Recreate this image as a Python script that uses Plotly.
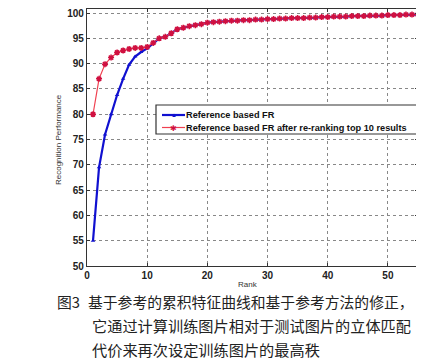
import plotly.graph_objects as go

rank = list(range(1, 56))
blue_vals = [55, 69.5, 76, 80, 83.8, 87, 89.8, 91.4, 92.3, 93.0, 94.1,
             95.0, 95.3, 96.0, 96.8, 97.1, 97.4, 97.6, 97.8, 98.1,
             98.2, 98.3, 98.4, 98.5, 98.5, 98.6, 98.6, 98.7, 98.7, 98.8,
             98.8, 98.9, 98.9, 99.0, 99.0, 99.0, 99.1, 99.1, 99.2, 99.2,
             99.3, 99.3, 99.3, 99.4, 99.4, 99.4, 99.5, 99.5, 99.5, 99.6,
             99.6, 99.6, 99.7, 99.7, 99.7]
red_vals = [80, 87, 89.9, 91.2, 92.2, 92.6, 92.9, 93.1, 93.1, 93.3, 94.1,
            95.0, 95.3, 96.0, 96.8, 97.1, 97.4, 97.6, 97.8, 98.1,
            98.2, 98.3, 98.4, 98.5, 98.5, 98.6, 98.6, 98.7, 98.7, 98.8,
            98.8, 98.9, 98.9, 99.0, 99.0, 99.0, 99.1, 99.1, 99.2, 99.2,
            99.3, 99.3, 99.3, 99.4, 99.4, 99.4, 99.5, 99.5, 99.5, 99.6,
            99.6, 99.6, 99.7, 99.7, 99.7]
series_names = ["Reference based FR",
                "Reference based FR after re-ranking top 10 results"]
x_ticks = [0, 10, 20, 30, 40, 50]
y_ticks = [50, 55, 60, 65, 70, 75, 80, 85, 90, 95, 100]
caption_label = "图3"
caption_lines = ["基于参考的累积特征曲线和基于参考方法的修正，",
                 "它通过计算训练图片相对于测试图片的立体匹配",
                 "代价来再次设定训练图片的最高秩"]

BLUE = "#1010d0"
RED_LINE = "#f04050"
RED_MK = "#d01040"

# page has an 8px body margin: figure coordinates = page coordinates - 8
OFF = 8
W, H = 424 - OFF, 359 - OFF
L, T = 87 - OFF, 9 - OFF
PR, PB = 418 - OFF, 266 - OFF
R, B = W - PR, H - PB
pw, ph = PR - L, PB - T

def px(x):
    return (x - OFF - L) / pw

def py(y):
    return (PB - (y - OFF)) / ph

fig = go.Figure()
fig.add_trace(go.Scatter(
    x=rank, y=blue_vals, name=series_names[0], mode="lines+markers",
    line=dict(color=BLUE, width=2.2),
    marker=dict(symbol="triangle-up", size=4, color=BLUE)))
fig.add_trace(go.Scatter(
    x=rank, y=red_vals, name=series_names[1], mode="lines+markers",
    line=dict(color=RED_LINE, width=1.2),
    marker=dict(symbol="asterisk-open", size=5,
                line=dict(color=RED_MK, width=1.5), color=RED_MK)))

axis_common = dict(showline=True, linecolor="#333", linewidth=1.2, mirror="ticks",
                   ticks="inside", ticklen=3, tickcolor="#333",
                   showgrid=True, gridcolor="#888", griddash="dot", gridwidth=1,
                   zeroline=False, automargin=False, ticklabeloverflow="allow",
                   tickfont=dict(family="Liberation Sans, Arial", size=10, color="#222"))

fig.update_xaxes(range=[0, 55], tickvals=x_ticks,
                 ticktext=["<b>%d</b>" % v for v in x_ticks], **axis_common)
fig.update_yaxes(range=[50, 100.8], tickvals=y_ticks,
                 ticktext=["<b>%d</b>" % v for v in y_ticks], **axis_common)

anns = [
    dict(text="Recognition Performance", x=px(58), y=py(140), xref="paper", yref="paper",
         textangle=-90, showarrow=False, xanchor="center", yanchor="middle",
         font=dict(family="Liberation Sans, Arial", size=8, color="#333")),
    dict(text="Rank", x=px(248), y=py(284), xref="paper", yref="paper",
         showarrow=False, xanchor="center", yanchor="middle", borderpad=0,
         font=dict(family="Liberation Sans, Arial", size=8, color="#333")),
    dict(text=caption_label, x=px(56), y=py(301), xref="paper", yref="paper",
         showarrow=False, xanchor="left", yanchor="middle", borderpad=0,
         font=dict(family="Noto Sans CJK SC", size=14.8, color="#222")),
]
cap_pos = [(87, 301, 14.8), (91, 325, 15.2), (91, 349, 15.2)]
for line, (cx, cy, fs) in zip(caption_lines, cap_pos):
    anns.append(dict(text=line, x=px(cx), y=py(cy), xref="paper", yref="paper",
                     showarrow=False, xanchor="left", yanchor="middle", borderpad=0,
                     font=dict(family="Noto Sans CJK SC", size=fs, color="#222")))

# custom legend (box, sample lines, glyph markers, labels)
shapes = [dict(type="rect", xref="paper", yref="paper",
               x0=px(156), x1=px(417), y0=py(134), y1=py(105),
               line=dict(color="#333", width=1.2), fillcolor="white", layer="above")]
leg_rows = [(115, BLUE, 2.2, "▲", 6, series_names[0]),
            (127.5, RED_LINE, 1.2, "✱", 8, series_names[1])]
for ly, col, lw, glyph, gs, label in leg_rows:
    shapes.append(dict(type="line", xref="paper", yref="paper",
                       x0=px(162), x1=px(185), y0=py(ly), y1=py(ly),
                       line=dict(color=col, width=lw), layer="above"))
    anns.append(dict(text=glyph, x=px(173.5), y=py(ly), xref="paper", yref="paper",
                     showarrow=False, xanchor="center", yanchor="middle",
                     font=dict(size=gs, color=col if glyph == "▲" else RED_MK)))
    anns.append(dict(text="<b>" + label + "</b>", x=px(184), y=py(ly), xref="paper",
                     yref="paper", showarrow=False, xanchor="left", yanchor="middle",
                     font=dict(family="Liberation Sans, Arial", size=9.2, color="#111")))

fig.update_layout(
    width=W, height=H, margin=dict(l=L, r=R, t=T, b=B, autoexpand=False),
    plot_bgcolor="white", paper_bgcolor="white",
    annotations=anns, shapes=shapes, showlegend=False,
)

fig.write_html("out.html")
